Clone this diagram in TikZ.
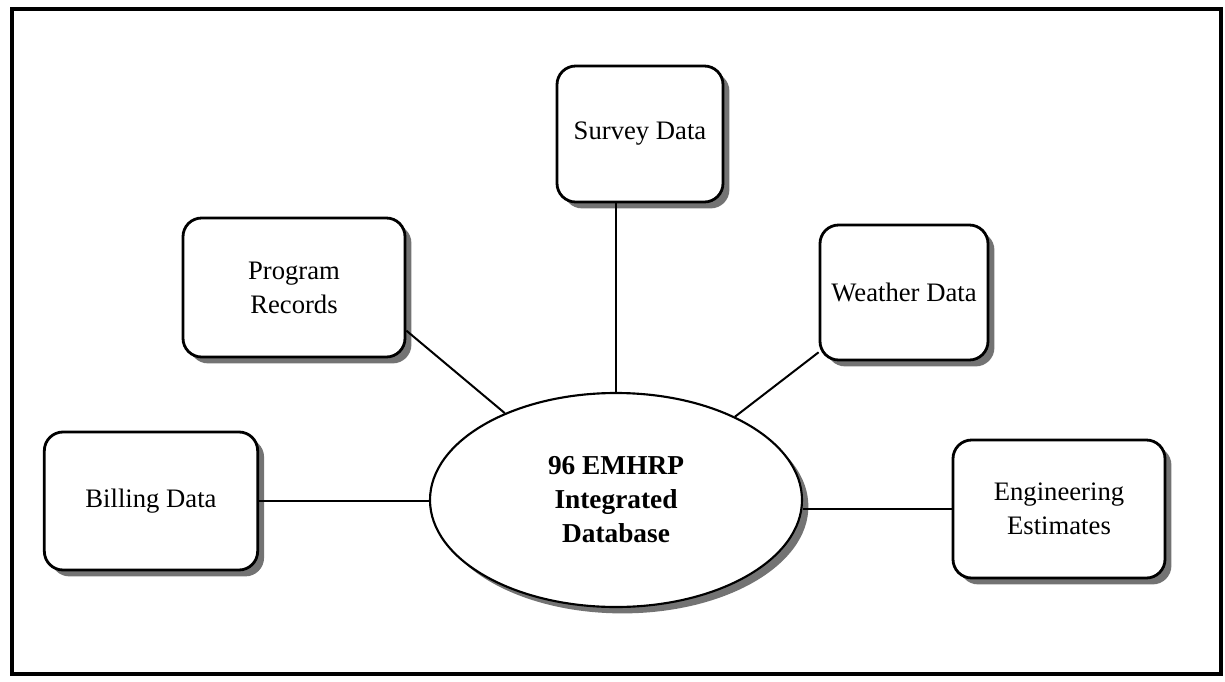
\documentclass[tikz,border=0pt]{standalone}
\usepackage{fontspec}
\setmainfont{Liberation Serif}
\usetikzlibrary{shapes.geometric,shadows}
\begin{document}
\begin{tikzpicture}[x=0.75pt,y=-0.75pt,
  databox/.style={draw,line width=2.1pt,rounded corners=14pt,fill=white,
    align=center,inner sep=0pt,font=\fontsize{20}{25.5}\selectfont,
    drop shadow={shadow xshift=4.8pt,shadow yshift=-4.8pt,fill=black!55,opacity=1}},
  hub/.style={ellipse,draw,line width=1.6pt,fill=white,align=center,inner sep=0pt,
    font=\fontsize{20.5}{25.5}\selectfont\bfseries,
    drop shadow={shadow xshift=4.8pt,shadow yshift=-4.8pt,fill=black!55,opacity=1}},
  link/.style={line width=1.5pt}]
\useasboundingbox (0,0) rectangle (1225,682);
\draw[line width=2.4pt] (12,9) rectangle (1221,674);

\node[databox,minimum width=124.5pt,minimum height=102pt] (sv) at (640,134) {Survey Data};
\node[databox,minimum width=166.5pt,minimum height=104.25pt] (pr) at (294,287.5) {Program\\Records};
\node[databox,minimum width=126pt,minimum height=101.25pt] (wd) at (904,292.5) {Weather Data};
\node[databox,minimum width=160pt,minimum height=103.5pt] (bd) at (151,501) {Billing Data};
\node[databox,minimum width=159pt,minimum height=103.5pt] (en) at (1059,509) {Engineering\\Estimates};
\node[hub,minimum width=279pt,minimum height=160.5pt] (db) at (616,500) {96 EMHRP\\Integrated\\Database};

\draw[link] (pr.-21.5) -- (db.142.4);
\draw[link] (wd.215.8) -- (db.35.7);
\draw[link] (db.north) -- (db.north |- sv.south);
\draw[link] (bd.east) -- (bd.east -| db.west);
\draw[link] (en.west) -- (en.west -| db.east);
\end{tikzpicture}
\end{document}
